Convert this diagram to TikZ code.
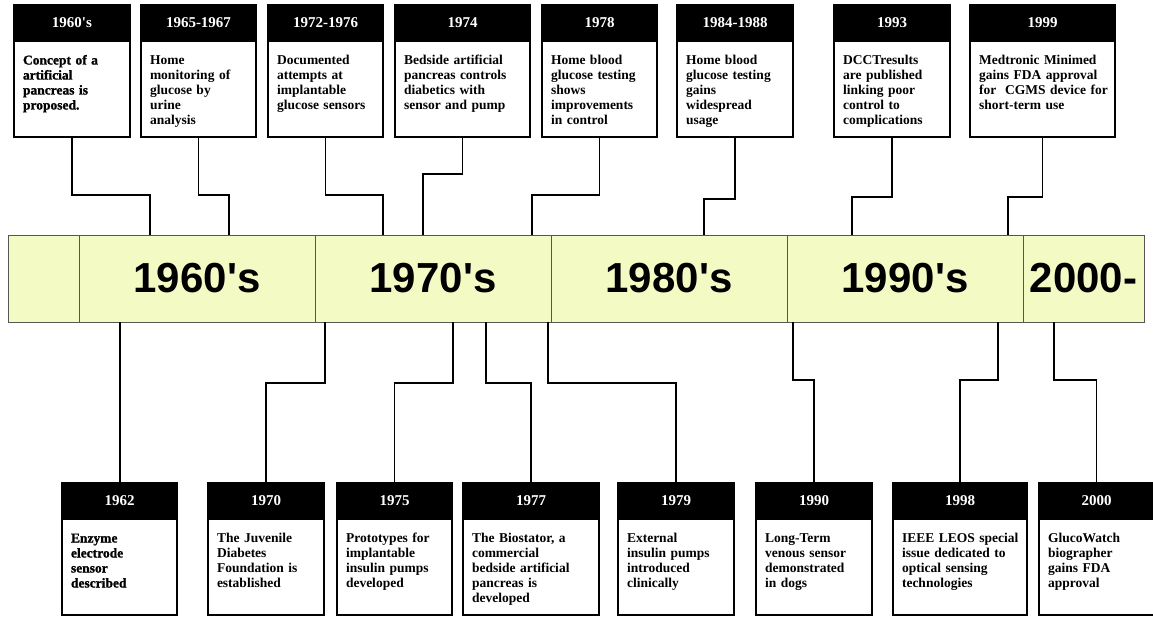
\documentclass[tikz,border=0pt]{standalone}
\usepackage{fontspec}
\setmainfont{Liberation Serif}
\setsansfont{Liberation Sans}
\newfontfamily\heavyfont{Liberation Serif Bold}[FakeBold=1.2]
\usepackage{tikz}
\definecolor{bandfill}{RGB}{244,250,196}
\definecolor{bandline}{RGB}{85,85,85}
\tikzstyle{decade}=[draw=bandline,fill=bandfill,line width=0.9pt,inner sep=0pt,outer sep=0pt,minimum height=87pt,anchor=north west,font=\sffamily\bfseries\fontsize{42}{42}\selectfont]
\tikzstyle{yearhead}=[draw=black,fill=black,text=white,line width=1.2pt,inner sep=0pt,outer sep=0pt,minimum height=36pt,anchor=north west,font=\bfseries\fontsize{15}{15}\selectfont]
\tikzstyle{event}=[draw=black,fill=white,line width=1.2pt,inner xsep=9pt,inner ysep=0pt,outer sep=0pt,anchor=north,align=left,text height=23.5pt,text depth=72.5pt,font=\bfseries\fontsize{13.5}{15}\selectfont]
\tikzstyle{link}=[line width=1.8pt]

\begin{document}
\begin{tikzpicture}[x=1pt,y=-1pt]
      \useasboundingbox (0,0) rectangle (1153,617);

      % decades band
      \node[decade,minimum width=71pt] (d0) at (8,235) {};
      \node[decade,minimum width=236pt] (d1) at (79,235) {1960\textquotesingle s};
      \node[decade,minimum width=236pt] (d2) at (315,235) {1970\textquotesingle s};
      \node[decade,minimum width=236pt] (d3) at (551,235) {1980\textquotesingle s};
      \node[decade,minimum width=236pt] (d4) at (787,235) {1990\textquotesingle s};
      \node[decade,minimum width=121pt] (d5) at (1023,235) {2000-};

      % events above the band
      \node[yearhead,minimum width=116pt] (t1h) at (14,5) {1960\textquotesingle s};
      \node[event,text width=98pt,font=\heavyfont\fontsize{13.5}{15}\selectfont] (t1) at (t1h.south) {Concept of a\\artificial\\pancreas is\\proposed.};
      \node[yearhead,minimum width=115pt] (t2h) at (141,5) {1965-1967};
      \node[event,text width=97pt] (t2) at (t2h.south) {Home\\monitoring of\\glucose by\\urine\\analysis};
      \node[yearhead,minimum width=115pt] (t3h) at (268,5) {1972-1976};
      \node[event,text width=97pt] (t3) at (t3h.south) {Documented\\attempts at\\implantable\\glucose sensors};
      \node[yearhead,minimum width=135pt] (t4h) at (395,5) {1974};
      \node[event,text width=117pt] (t4) at (t4h.south) {Bedside artificial\\pancreas controls\\diabetics with\\sensor and pump};
      \node[yearhead,minimum width=115pt] (t5h) at (542,5) {1978};
      \node[event,text width=97pt] (t5) at (t5h.south) {Home blood\\glucose testing\\shows\\improvements\\in control};
      \node[yearhead,minimum width=116pt] (t6h) at (677,5) {1984-1988};
      \node[event,text width=98pt] (t6) at (t6h.south) {Home blood\\glucose testing\\gains\\widespread\\usage};
      \node[yearhead,minimum width=116pt] (t7h) at (834,5) {1993};
      \node[event,text width=98pt] (t7) at (t7h.south) {DCCTresults\\are published\\linking poor\\control to\\complications};
      \node[yearhead,minimum width=145pt] (t8h) at (970,5) {1999};
      \node[event,text width=127pt] (t8) at (t8h.south) {Medtronic Minimed\\gains FDA approval\\\mbox{for\ \ CGMS device for}\\short-term use};

      % events below the band
      \node[yearhead,minimum width=115pt] (b1h) at (62,483) {1962};
      \node[event,text width=97pt,font=\heavyfont\fontsize{13.5}{15}\selectfont] (b1) at (b1h.south) {Enzyme\\electrode\\sensor\\described};
      \node[yearhead,minimum width=116pt] (b2h) at (208,483) {1970};
      \node[event,text width=98pt] (b2) at (b2h.south) {The Juvenile\\Diabetes\\Foundation is\\established};
      \node[yearhead,minimum width=115pt] (b3h) at (337,483) {1975};
      \node[event,text width=97pt] (b3) at (b3h.south) {Prototypes for\\implantable\\insulin pumps\\developed};
      \node[yearhead,minimum width=136pt] (b4h) at (463,483) {1977};
      \node[event,text width=118pt] (b4) at (b4h.south) {The Biostator, a\\commercial\\bedside artificial\\pancreas is\\developed};
      \node[yearhead,minimum width=116pt] (b5h) at (618,483) {1979};
      \node[event,text width=98pt] (b5) at (b5h.south) {External\\insulin pumps\\introduced\\clinically};
      \node[yearhead,minimum width=116pt] (b6h) at (756,483) {1990};
      \node[event,text width=98pt] (b6) at (b6h.south) {Long-Term\\venous sensor\\demonstrated\\in dogs};
      \node[yearhead,minimum width=134pt] (b7h) at (893,483) {1998};
      \node[event,text width=116pt] (b7) at (b7h.south) {\mbox{IEEE LEOS special}\\issue dedicated to\\optical sensing\\technologies};
      \node[yearhead,minimum width=115pt] (b8h) at (1039,483) {2000};
      \node[event,text width=97pt] (b8) at (b8h.south) {GlucoWatch\\biographer\\gains FDA\\approval};

      % attachment points on the band
      \coordinate (p1) at (150,235);
      \coordinate (p2) at (229,235);
      \coordinate (p3) at (383,235);
      \coordinate (p4) at (423,235);
      \coordinate (p5) at (532,235);
      \coordinate (p6) at (704,235);
      \coordinate (p7) at (852,235);
      \coordinate (p8) at (1008,235);
      \coordinate (q1) at (120,322);
      \coordinate (q2) at (325,322);
      \coordinate (q3) at (453,322);
      \coordinate (q4) at (486,322);
      \coordinate (q5) at (548,322);
      \coordinate (q6) at (793,322);
      \coordinate (q7) at (998,322);
      \coordinate (q8) at (1054,322);

      \draw[link] (t1.south) |- ([yshift=40pt]p1) -- (p1);
      \draw[link] (t2.south) |- ([yshift=40pt]p2) -- (p2);
      \draw[link] (t3.south) |- ([yshift=40pt]p3) -- (p3);
      \draw[link] (t4.south) |- ([yshift=61pt]p4) -- (p4);
      \draw[link] (t5.south) |- ([yshift=40pt]p5) -- (p5);
      \draw[link] (t6.south) |- ([yshift=36pt]p6) -- (p6);
      \draw[link] (t7.south) |- ([yshift=38pt]p7) -- (p7);
      \draw[link] (t8.south) |- ([yshift=38pt]p8) -- (p8);

      \draw[link] (q1) -- (q1 |- b1h.north);
      \draw[link] (q2) |- ([yshift=100pt]b2h.north) -- (b2h.north);
      \draw[link] (q3) |- ([yshift=100pt]b3h.north) -- (b3h.north);
      \draw[link] (q4) |- ([yshift=100pt]b4h.north) -- (b4h.north);
      \draw[link] (q5) |- ([yshift=100pt]b5h.north) -- (b5h.north);
      \draw[link] (q6) |- ([yshift=103pt]b6h.north) -- (b6h.north);
      \draw[link] (q7) |- ([yshift=103pt]b7h.north) -- (b7h.north);
      \draw[link] (q8) |- ([yshift=103pt]b8h.north) -- (b8h.north);

    \end{tikzpicture}
\end{document}
